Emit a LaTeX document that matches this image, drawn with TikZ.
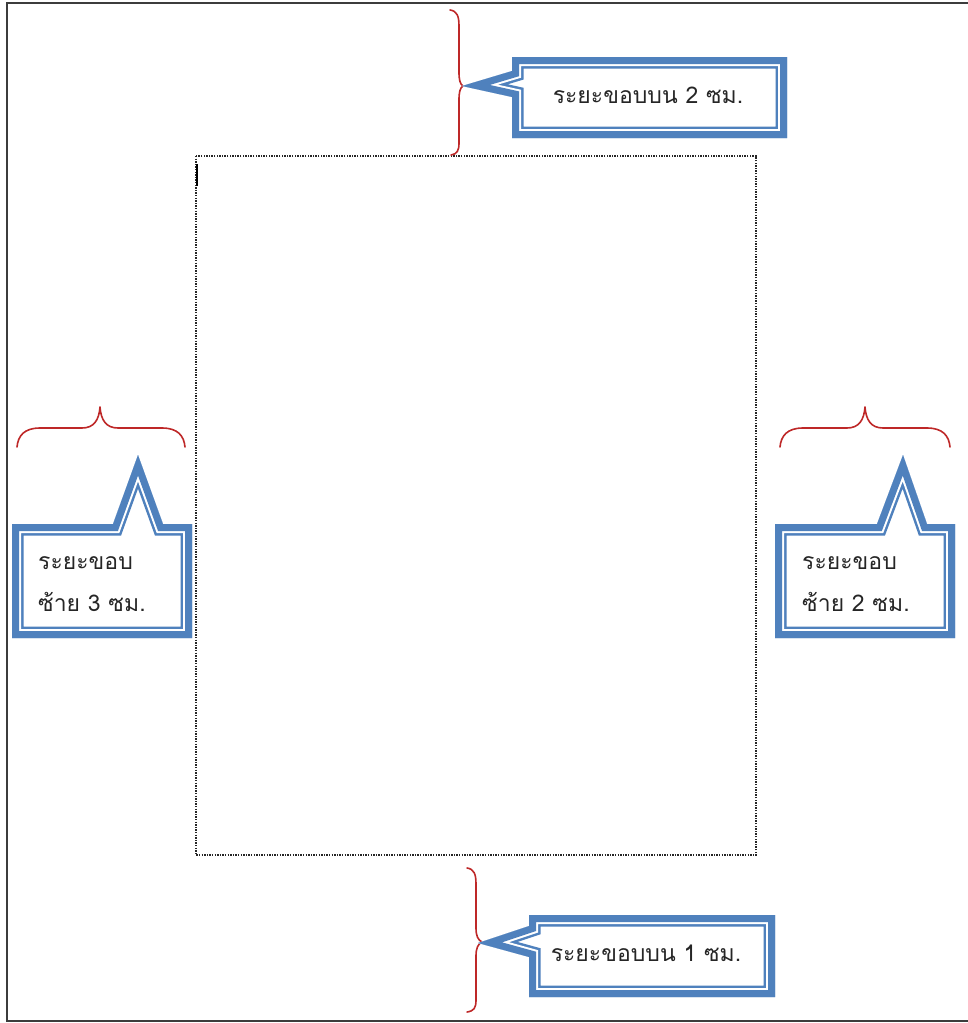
\documentclass[tikz,border=0pt]{standalone}
\usepackage{fontspec}
\newfontfamily\thaifont[Script=Thai]{Loma}
\definecolor{calloutblue}{RGB}{79,129,189}
\definecolor{bracered}{RGB}{190,40,40}
\definecolor{pageedge}{RGB}{60,60,60}
\tikzset{
  bracepath/.style={draw=bracered, line width=1.6pt, line cap=round, line join=round},
  labeltext/.style={font=\thaifont\fontsize{23}{42}\selectfont, inner sep=0pt, text=black!85},
}
% callout: white body, thick outer blue band, thin white gap, thin blue inner line
\newcommand\bubbleshape[1]{%
  \fill[white] #1;
  \begin{scope}
    \clip #1;
    \draw[calloutblue, line width=23pt, line join=miter] #1;
    \draw[white, line width=18pt, line join=miter] #1;
    \draw[calloutblue, line width=14pt, line join=miter] #1;
  \end{scope}}
\begin{document}
\begin{tikzpicture}[x=1pt, y=-1pt]
\useasboundingbox (0,0) rectangle (968,1023);

% page edge (open on the right)
\draw[pageedge, line width=2pt] (968,3) -- (7,3) -- (7,1021) -- (968,1021);

% text area
\draw[black!85, line width=1.5pt, dash pattern=on 1.4pt off 1.2pt] (196,156) rectangle (756,855);
\draw[black, line width=2pt] (197,164) -- (197,186);

% braces
\draw[bracepath] (450,10) .. controls (457,11) and (459,16) .. (459,26)
  -- (459,72) .. controls (459,80) and (460,84) .. (463,86)
  .. controls (460,88) and (459,92) .. (459,100)
  -- (459,143) .. controls (459,151) and (457,154) .. (451,155);
\coordinate (topTip) at (463,86);

\draw[bracepath] (467,868) .. controls (474,869) and (476,874) .. (476,884)
  -- (476,928) .. controls (476,936) and (478,940) .. (482,942)
  .. controls (478,944) and (476,948) .. (476,956)
  -- (476,1000) .. controls (476,1008) and (474,1011) .. (467,1012);
\coordinate (bottomTip) at (482,942);

\draw[bracepath] (17,447) .. controls (18,436) and (24,428) .. (40,428)
  -- (82,428) .. controls (94,428) and (99,420) .. (100,407)
  .. controls (101,420) and (106,428) .. (118,428)
  -- (162,428) .. controls (178,428) and (184,436) .. (185,447);
\coordinate (leftTip) at (100,407);

\begin{scope}[xshift=765pt]
\draw[bracepath] (15,447) .. controls (16,436) and (22,428) .. (38,428)
  -- (82,428) .. controls (94,428) and (99,420) .. (100,407)
  .. controls (101,420) and (106,428) .. (118,428)
  -- (162,428) .. controls (178,428) and (184,436) .. (185,447);
\coordinate (rightTip) at (100,407);
\end{scope}

% callouts
\bubbleshape{(512,57) -- (787,57) -- (787,138) -- (512,138) -- (512,97) -- (462,86) -- (512,71) -- cycle}
\bubbleshape{(529,915) -- (775,915) -- (775,997) -- (529,997) -- (529,957) -- (478,943) -- (529,926) -- cycle}
\bubbleshape{(12,524) -- (113,524) -- (138,455) -- (163,524) -- (192,524) -- (192,638) -- (12,638) -- cycle}
\bubbleshape{(775,524) -- (877,524) -- (903,455) -- (927,524) -- (955,524) -- (955,638) -- (775,638) -- cycle}

% labels
\node[labeltext] (topLabel) at (648,95) {ระยะขอบบน 2 ซม.};
\node[labeltext] (bottomLabel) at (646,953) {ระยะขอบบน 1 ซม.};
\node[labeltext, anchor=west, align=left] (leftLabel) at (38,584) {ระยะขอบ\\ซ้าย 3 ซม.};
\node[labeltext, anchor=west, align=left] (rightLabel) at (802,584) {ระยะขอบ\\ซ้าย 2 ซม.};
\end{tikzpicture}
\end{document}
